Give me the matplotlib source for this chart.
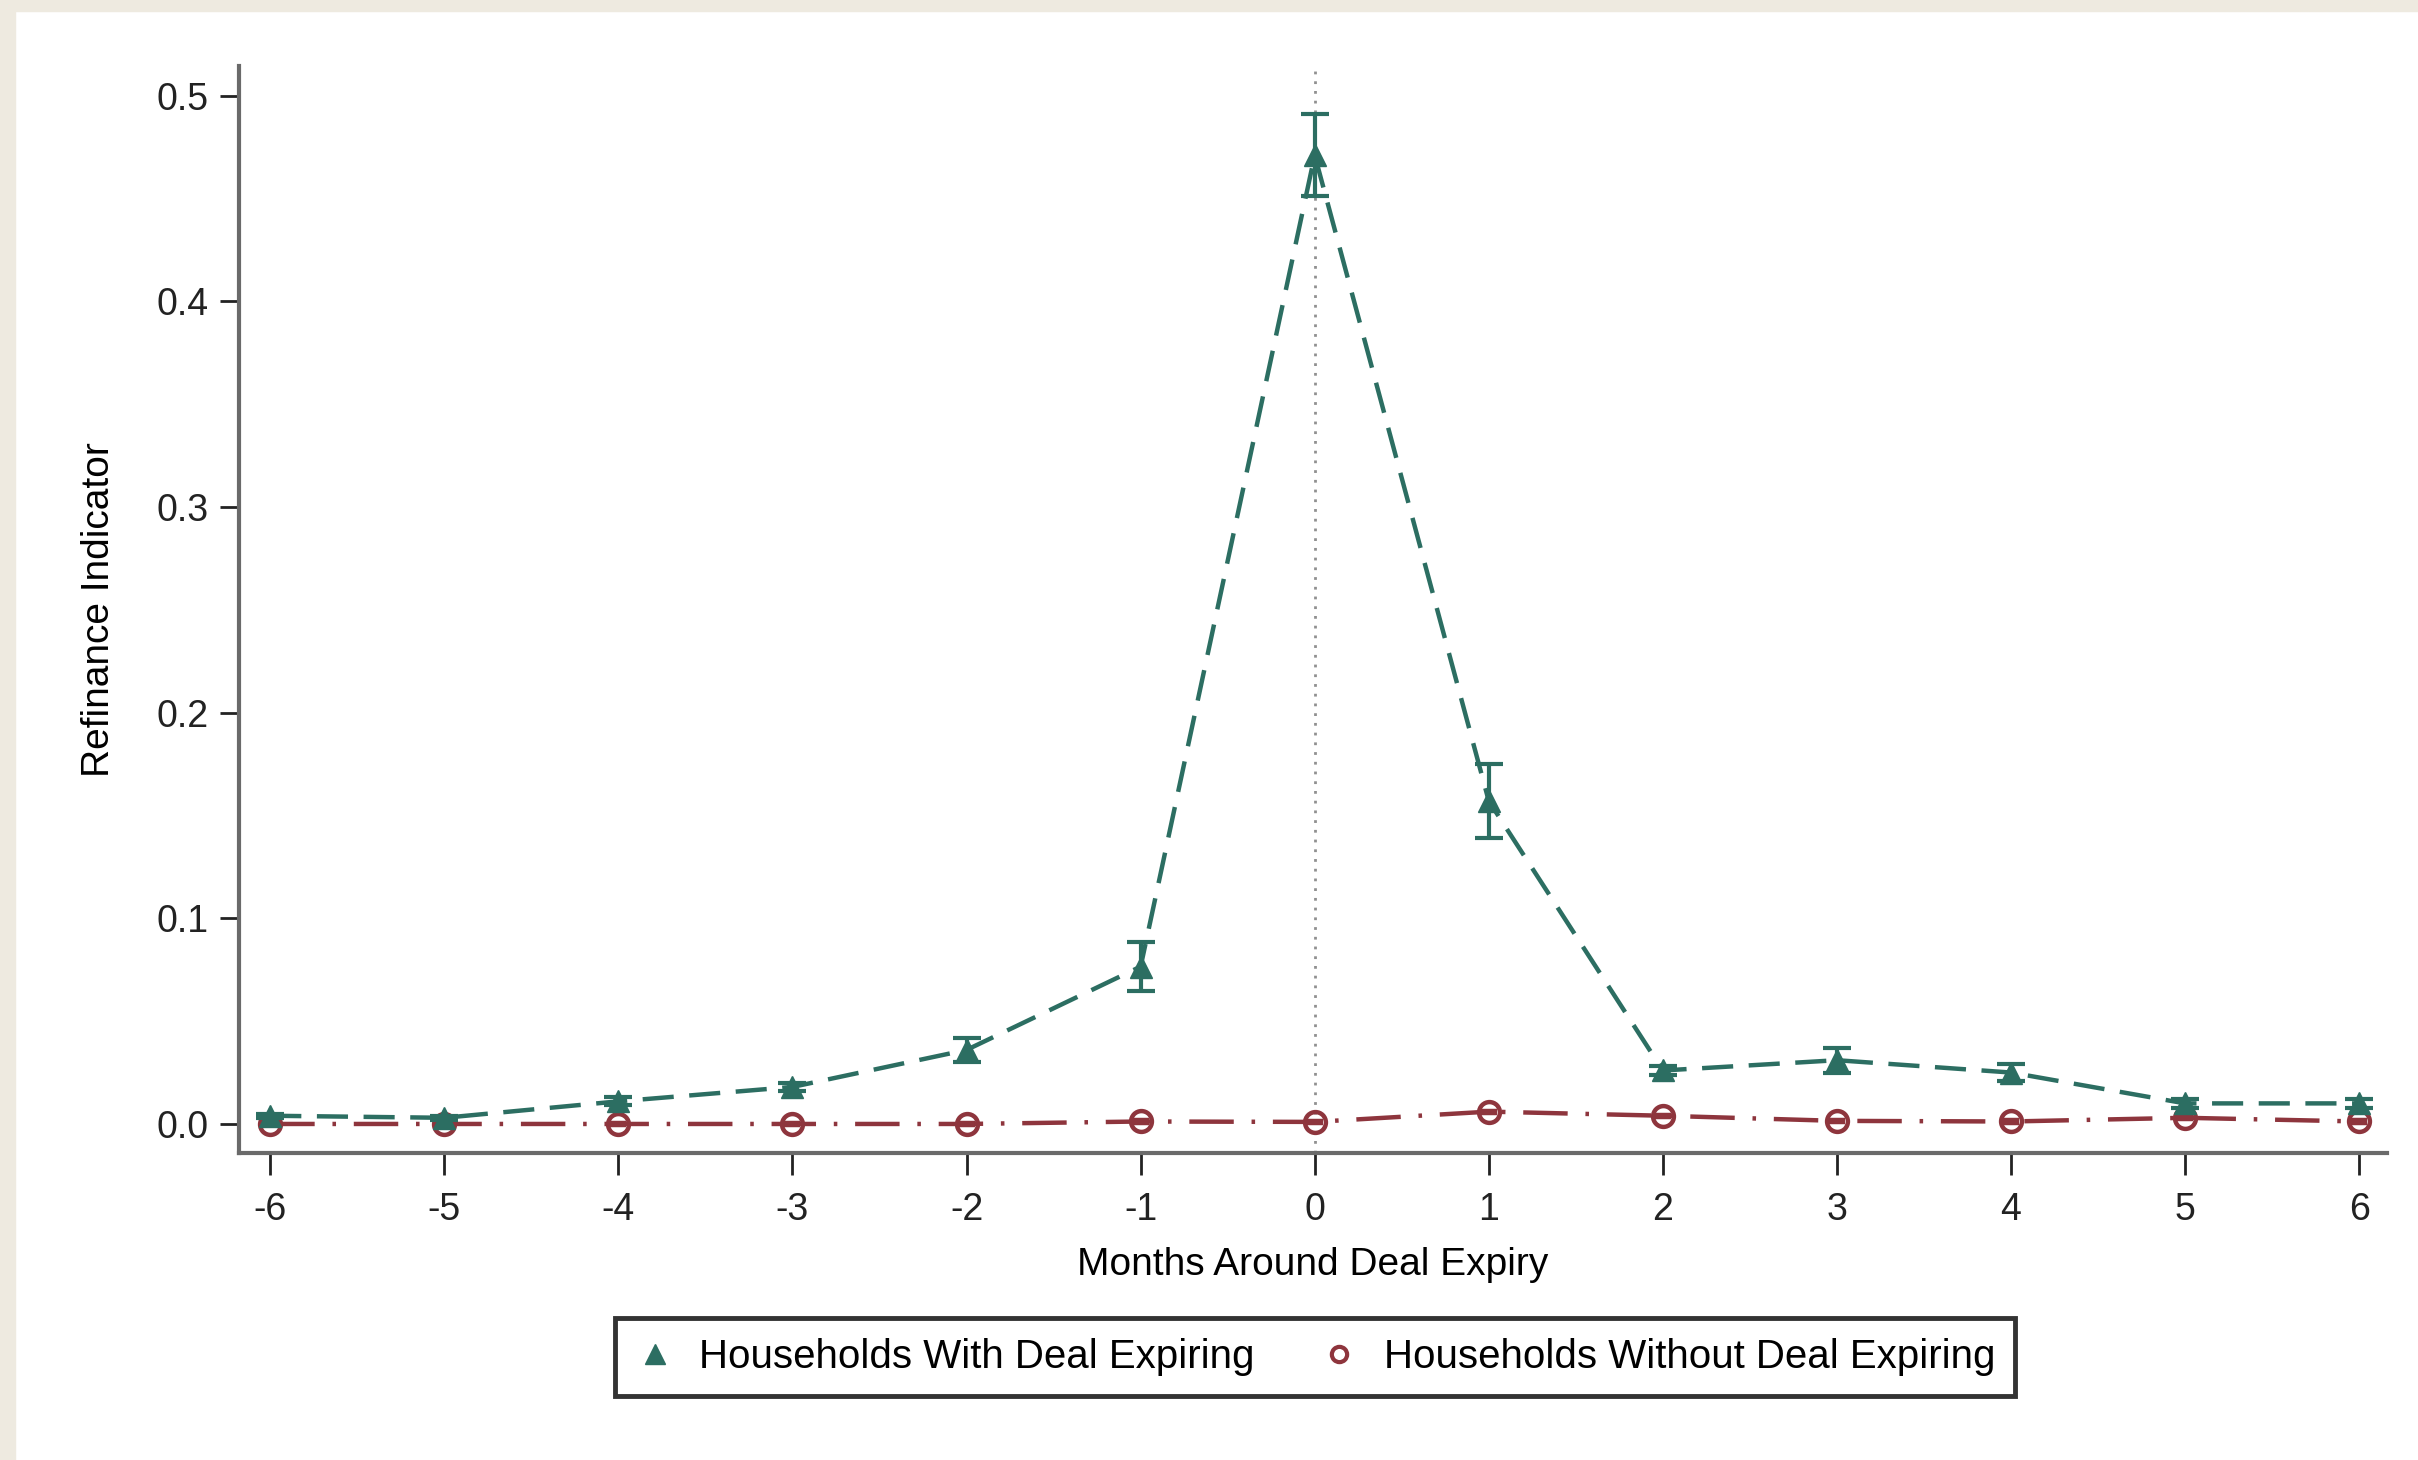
import numpy as np
import matplotlib.pyplot as plt
from matplotlib.lines import Line2D
from matplotlib.patches import Rectangle

plt.rcParams['font.family'] = ['Liberation Sans', 'DejaVu Sans']

months = np.arange(-6, 7)
with_deal = [0.004, 0.003, 0.011, 0.018, 0.036, 0.0765, 0.471, 0.157, 0.026, 0.031, 0.025, 0.010, 0.010]
with_err = [0.001, 0.001, 0.002, 0.002, 0.006, 0.012, 0.020, 0.018, 0.002, 0.006, 0.004, 0.002, 0.002]
without_deal = [0.000, 0.000, 0.000, 0.000, 0.000, 0.0012, 0.001, 0.006, 0.004, 0.0015, 0.0012, 0.003, 0.0012]
without_err = [0.0005] * 13
yticks = [0.0, 0.1, 0.2, 0.3, 0.4, 0.5]

green = '#2C6E62'
red = '#8E353D'
axcol = '#6A6A6A'

fig = plt.figure(figsize=(24.18, 14.6), dpi=100, facecolor='white')
# beige page edge
fig.patches.append(Rectangle((0, 1 - 11 / 1460), 1, 11 / 1460, transform=fig.transFigure,
                             color='#EEEAE0', zorder=0))
fig.patches.append(Rectangle((0, 0), 15 / 2418, 1, transform=fig.transFigure,
                             color='#EEEAE0', zorder=0))

ax = fig.add_axes([0.0988, 0.2103, 0.8884, 0.7445])

ax.axvline(0, color='#909090', ls=(0, (1, 2.5)), lw=2, zorder=1)

ax.errorbar(months, with_deal, yerr=with_err, color=green, ls=(0, (7, 3.5)), lw=3.2,
            marker='^', ms=16, capsize=10, capthick=3, elinewidth=3, zorder=3)
ax.errorbar(months, without_deal, yerr=without_err, color=red, ls=(0, (10, 4, 0.8, 4)), lw=3.2,
            marker='o', ms=15, mfc='none', mew=3.2, capsize=6, capthick=2, elinewidth=2, zorder=2)

ax.set_xlim(-6.18, 6.16)
ax.set_ylim(-0.0141, 0.5144)
ax.set_xticks(months)
ax.set_xticklabels([str(m) for m in months])
ax.set_yticks(yticks)
ax.set_yticklabels(['%.1f' % v for v in yticks])

for s in ['top', 'right']:
    ax.spines[s].set_visible(False)
for s in ['left', 'bottom']:
    ax.spines[s].set_color(axcol)
    ax.spines[s].set_linewidth(3)

ax.tick_params(axis='both', labelsize=27, colors='#222222', length=14, width=2, pad=8)
ax.tick_params(axis='x', length=16, pad=12)

ax.set_xlabel('Months Around Deal Expiry', fontsize=28, labelpad=14)
ax.set_ylabel('Refinance Indicator', fontsize=28, labelpad=28)

handles = [
    Line2D([], [], color=green, marker='^', ls='none', ms=14),
    Line2D([], [], color=red, marker='o', ls='none', ms=11, mfc='none', mew=3),
]
leg = fig.legend(handles, ['Households With Deal Expiring', 'Households Without Deal Expiring'],
                 loc='center', bbox_to_anchor=(0.5438, 0.0705), ncol=2, fontsize=29,
                 frameon=True, fancybox=False, edgecolor='black', handlelength=1,
                 handletextpad=0.6, columnspacing=1.6, borderpad=0.5, shadow=False)
leg.get_frame().set_linewidth(3.5)

fig.savefig('out.png', dpi=100, facecolor='white')
